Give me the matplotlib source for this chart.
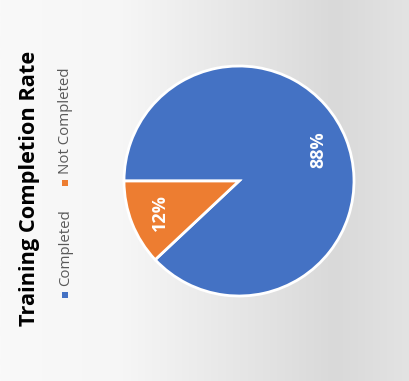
import numpy as np
import matplotlib
matplotlib.use('Agg')
import matplotlib.pyplot as plt
from matplotlib.colors import LinearSegmentedColormap
from matplotlib.patches import Rectangle

# 数据
labels = ['Completed', 'Not Completed']
values = [88, 12]
colors = ['#4472C4', '#ED7D31']
title = 'Training Completion Rate'

plt.rcParams['font.family'] = ['Open Sans', 'DejaVu Sans']

fig = plt.figure(figsize=(4.1, 3.81), dpi=100)

# 背景渐变
bg = fig.add_axes([0, 0, 1, 1], zorder=0)
cmap = LinearSegmentedColormap.from_list('bg', [(0, '#f9f9f9'), (0.3, '#f6f6f6'),
                                              (0.82, '#d9d9d9'), (1, '#e3e3e3')])
bg.imshow(np.linspace(0, 1, 256).reshape(1, -1), aspect='auto', cmap=cmap,
          extent=[0, 1, 0, 1])
bg.axis('off')

# 饼图
ax = fig.add_axes([124/410, 85/381, 230/410, 230/381], zorder=1)
wedges, texts, autotexts = ax.pie(values, colors=colors, startangle=223.2,
                                  counterclock=True, autopct='%1.0f%%',
                                  pctdistance=0.74,
                                  wedgeprops=dict(edgecolor='white', linewidth=2))
for t in autotexts:
    t.set_color('white')
    t.set_fontweight('bold')
    t.set_fontsize(13)
    t.set_rotation(90)
ax.set_xlim(-1.0, 1.0)
ax.set_ylim(-1.0, 1.0)
ax.set_aspect('equal')

# 标题（竖排）
fig.text(30/410, 1 - 188/381, title, rotation=90, fontsize=15.7, fontweight='bold',
         ha='center', va='center', color='black')

# 图例（竖排）
legend_x = 66/410
fig.patches.append(Rectangle((62/410, 1 - 298/381), 6/410, 6/381, transform=fig.transFigure,
                             facecolor=colors[0], figure=fig))
fig.text(legend_x, 1 - 286/381, labels[0], rotation=90, fontsize=10.8, color='#595959',
         ha='center', va='bottom')
fig.patches.append(Rectangle((62/410, 1 - 186/381), 6/410, 6/381, transform=fig.transFigure,
                             facecolor=colors[1], figure=fig))
fig.text(legend_x, 1 - 174/381, labels[1], rotation=90, fontsize=10.8, color='#595959',
         ha='center', va='bottom')

plt.savefig('out.png', dpi=100)
